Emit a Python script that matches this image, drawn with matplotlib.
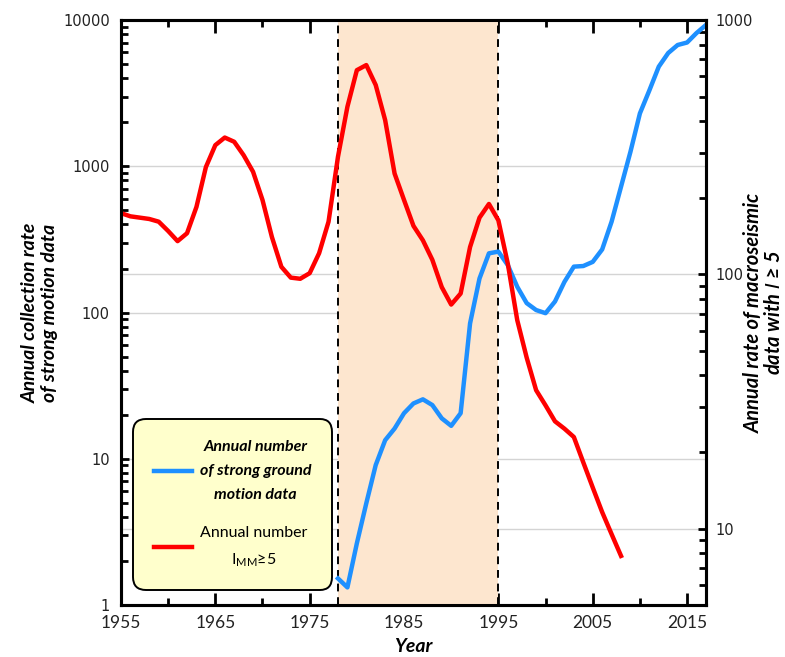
import numpy as np
import matplotlib
matplotlib.use("Agg")
import matplotlib.pyplot as plt
from matplotlib.ticker import LogLocator, FixedLocator, MultipleLocator, NullFormatter, FuncFormatter

# Annual number of strong ground motion data (left axis)
sgm_years = list(range(1978, 2018))
sgm_counts = [1.52, 1.32, 2.64, 4.96, 9.06, 13.4, 16.1, 20.5, 23.9, 25.5,
              23.3, 18.9, 16.8, 20.5, 84.3, 171, 254, 261, 211, 150,
              116, 104, 99, 119, 162, 206, 208, 222, 270, 418,
              725, 1258, 2300, 3300, 4800, 5950, 6750, 7020, 8150, 9250]

# Annual number of macroseismic data with I_MM >= 5 (right axis)
mac_years = list(range(1955, 2009))
mac_counts = [174, 169, 167, 165, 161, 148, 135, 145, 184, 264,
              322, 345, 332, 294, 253, 196, 140, 107, 97, 96,
              101, 121, 161, 290, 456, 635, 665, 555, 404, 249,
              196, 155, 136, 114, 89, 76, 84, 128, 167, 189,
              163, 110, 66, 47, 35, 30.5, 26.4, 24.7, 22.9, 18.2,
              14.5, 11.6, 9.5, 7.8]

period = (1978, 1995)
year_ticks = [1955, 1965, 1975, 1985, 1995, 2005, 2015]
left_ticks = [1, 10, 100, 1000, 10000]
right_ticks = [10, 100, 1000]

blue = "#1E90FF"
red = "#FF0000"
shade = "#FDE6CF"

fig = plt.figure(figsize=(7.85, 6.57), dpi=100)
ax = fig.add_axes([0.1541, 0.0791, 0.7452, 0.8904])
ax2 = ax.twinx()

ax.set_yscale("log")
ax2.set_yscale("log")
ax.set_xlim(1955, 2017)
ax.set_ylim(1, 10000)
ax2.set_ylim(5, 1000)

# grids (shading goes over them)
ax.grid(axis="y", which="major", color="#d4d4d4", lw=1.0)
ax2.grid(axis="y", which="major", color="#d4d4d4", lw=1.0)
ax.grid(axis="x", visible=False)
ax2.axvspan(period[0], period[1], color=shade, zorder=1.6, lw=0)
for yr in period:
    ax2.axvline(yr, color="black", ls=(0, (4, 3)), lw=1.4, zorder=2.2)

ln_blue, = ax2.plot(sgm_years, sgm_counts, color=blue, lw=3.2, transform=ax.transData,
                    zorder=3, solid_joinstyle="round")
ln_red, = ax2.plot(mac_years, mac_counts, color=red, lw=3.2, zorder=3.2,
                   solid_joinstyle="round")

# ticks
ax.xaxis.set_major_locator(FixedLocator(year_ticks))
ax.xaxis.set_minor_locator(MultipleLocator(5))
ax.yaxis.set_major_locator(FixedLocator(left_ticks))
ax.yaxis.set_minor_locator(LogLocator(base=10, subs=np.arange(2, 10)))
ax.yaxis.set_minor_formatter(NullFormatter())
ax.yaxis.set_major_formatter(FuncFormatter(lambda v, p: f"{v:g}"))
ax2.yaxis.set_major_locator(FixedLocator(right_ticks))
ax2.yaxis.set_minor_locator(LogLocator(base=10, subs=np.arange(2, 10)))
ax2.yaxis.set_minor_formatter(NullFormatter())
ax2.yaxis.set_major_formatter(FuncFormatter(lambda v, p: f"{v:g}"))

ax.tick_params(axis="x", which="major", direction="in", length=9, width=2, top=True,
               pad=7, labelsize=12.5, labelcolor="#222222")
ax.tick_params(axis="x", which="minor", direction="in", length=5, width=2, top=True)
ax.tick_params(axis="y", which="major", direction="in", length=6, width=2, right=False,
               pad=8, labelsize=10.5, labelcolor="#222222")
ax.tick_params(axis="y", which="minor", direction="in", length=5, width=2, right=False)
ax2.tick_params(axis="y", which="major", direction="in", length=6, width=2,
                pad=7, labelsize=10.5, labelcolor="#222222")
ax2.tick_params(axis="y", which="minor", direction="in", length=5, width=2)
for lbl in ax.get_xticklabels():
    lbl.set_family("Lato")

for a in (ax, ax2):
    for sp in a.spines.values():
        sp.set_linewidth(2.2)
        sp.set_zorder(5)

lab_font = dict(family="Lato", weight="bold", style="italic")
ax.set_xlabel("Year", labelpad=5, size=14, **lab_font)
ax.set_ylabel("Annual collection rate\nof strong motion data", linespacing=1.1,
              va="center", ha="center", size=14, **lab_font)
ax.yaxis.set_label_coords(-0.1385, 0.5)
ax2.set_ylabel("Annual rate of macroseismic\ndata with $I$ ≥ 5", linespacing=1.05,
               va="center", ha="center", rotation=90, size=14.5, **lab_font)
ax2.yaxis.set_label_coords(1.099, 0.5)

leg = ax2.legend([ln_blue, ln_red],
                 ["Annual number\nof strong ground\nmotion data",
                  "Annual number\nI$_{\\mathregular{MM}}$≥5"],
                 loc="lower left", bbox_to_anchor=(0.0205, 0.026),
                 handlelength=2.4, handletextpad=0.5, labelspacing=1.5,
                 borderpad=1.3, borderaxespad=0, fancybox=True,
                 facecolor="#FFFFCC", edgecolor="black", framealpha=1,
                 prop=dict(family="Lato", weight="bold", style="italic", size=11.5))
leg.get_frame().set_linewidth(1.4)
leg.get_frame().set_boxstyle("round,pad=0,rounding_size=0.8")
leg.set_zorder(6)
for t in leg.get_texts():
    t.set_multialignment("center")
    t.set_linespacing(1.9)
leg.get_texts()[1].set_fontstyle("normal")
leg.get_texts()[1].set_fontweight("normal")

fig.savefig("out.png", dpi=100)
